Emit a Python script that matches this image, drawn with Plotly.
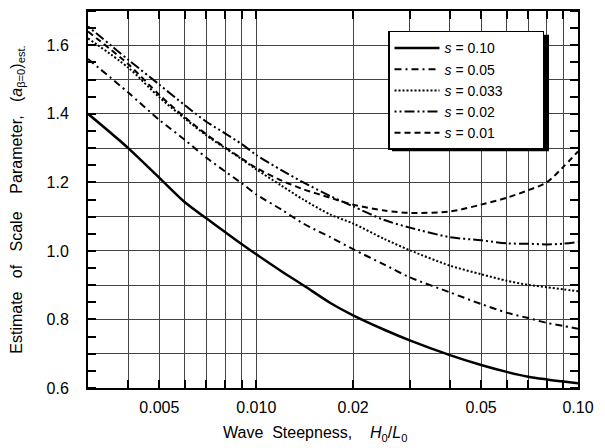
import plotly.graph_objects as go

steepness = [0.003, 0.004, 0.005, 0.006, 0.007, 0.008, 0.009, 0.010, 0.012, 0.014,
             0.017, 0.02, 0.025, 0.03, 0.04, 0.05, 0.06, 0.07, 0.08, 0.09, 0.1]

s_010 = [1.40, 1.30, 1.213, 1.142, 1.095, 1.055, 1.020, 0.990, 0.940, 0.900,
         0.848, 0.812, 0.770, 0.739, 0.696, 0.667, 0.647, 0.633, 0.625, 0.619, 0.614]
s_005 = [1.56, 1.462, 1.382, 1.324, 1.272, 1.232, 1.198, 1.165, 1.120, 1.080,
         1.040, 1.005, 0.960, 0.923, 0.879, 0.845, 0.820, 0.804, 0.790, 0.781, 0.773]
s_0033 = [1.62, 1.535, 1.448, 1.386, 1.337, 1.300, 1.268, 1.238, 1.190, 1.150,
          1.106, 1.080, 1.035, 1.002, 0.957, 0.932, 0.913, 0.901, 0.894, 0.888, 0.882]
s_002 = [1.655, 1.558, 1.485, 1.425, 1.377, 1.343, 1.312, 1.280, 1.235, 1.200,
         1.160, 1.130, 1.090, 1.068, 1.040, 1.031, 1.022, 1.021, 1.019, 1.021, 1.026]
s_001 = [1.64, 1.545, 1.455, 1.390, 1.340, 1.302, 1.270, 1.242, 1.205, 1.180,
         1.155, 1.135, 1.118, 1.111, 1.115, 1.135, 1.155, 1.177, 1.200, 1.245, 1.290]

series_names = ["<i>s</i> = 0.10", "<i>s</i> = 0.05", "<i>s</i> = 0.033",
                "<i>s</i> = 0.02", "<i>s</i> = 0.01"]
series_values = [s_010, s_005, s_0033, s_002, s_001]
series_dash = ["solid", "7px,4px,2px,4px", "2px,2px", "2px,3px,2px,3px,10px,3px", "6px,4px"]
series_width = [2.5, 2, 2, 2, 2]

x_tickvals = [0.005, 0.01, 0.02, 0.05, 0.1]
x_ticktext = ["0.005", "0.010", "0.02", "0.05", "0.10"]
x_minorvals = [0.004, 0.006, 0.007, 0.008, 0.009, 0.03, 0.04, 0.06, 0.07, 0.08, 0.09]
y_tickvals = [0.6, 0.7, 0.8, 0.9, 1.0, 1.1, 1.2, 1.3, 1.4, 1.5, 1.6, 1.7]
y_ticktext = ["0.6", "", "0.8", "", "1.0", "", "1.2", "", "1.4", "", "1.6", ""]

FONT = "Liberation Sans, Arial, sans-serif"
NB = "&nbsp;"

fig = go.Figure()
for name, vals, dash, w in zip(series_names, series_values, series_dash, series_width):
    fig.add_trace(go.Scatter(
        x=steepness, y=vals, mode="lines", name=name + NB * 9,
        line=dict(color="black", width=w, dash=dash, shape="spline", smoothing=0.8),
    ))

L, R, T, B = 88, 27, 9, 60
W, H = 605, 448
pw, ph = W - L - R, H - T - B

def px_to_paper(xp, yp):
    return (xp - L) / pw, (H - B - yp) / ph

sx0, sy0 = px_to_paper(392, 150)
sx1, sy1 = px_to_paper(549, 33)
fig.add_shape(type="rect", xref="paper", yref="paper", x0=sx0, x1=sx1, y0=sy0, y1=sy1,
              fillcolor="black", line=dict(width=0), layer="above")

lx, ly = px_to_paper(388, 29)
fig.update_layout(
    width=W, height=H,
    margin=dict(l=L, r=R, t=T, b=B),
    paper_bgcolor="white", plot_bgcolor="white",
    font=dict(family=FONT, size=16, color="black"),
    showlegend=True,
    legend=dict(x=lx, y=ly, xanchor="left", yanchor="top",
                bgcolor="white", bordercolor="black", borderwidth=1.5,
                font=dict(size=14), itemwidth=45, tracegroupgap=0),
    xaxis=dict(
        type="log", range=[-2.5229, -1], tickvals=x_tickvals, ticktext=x_ticktext,
        ticks="inside", ticklen=8, tickwidth=2, tickcolor="black",
        showgrid=True, gridcolor="#444", gridwidth=1,
        showline=True, linecolor="black", linewidth=2, mirror="ticks",
        minor=dict(tickvals=x_minorvals, ticks="inside", ticklen=8, tickwidth=2,
                   tickcolor="black", showgrid=True, gridcolor="#444", gridwidth=1),
        title=dict(text="Wave" + NB + " Steepness," + NB * 3 + " <i>H</i><sub>0</sub>/<i>L</i><sub>0</sub>" + NB * 8,
                   font=dict(size=16), standoff=12),
        ticklabelstandoff=4, zeroline=False,
    ),
    yaxis=dict(
        range=[0.6, 1.7], tickvals=y_tickvals, ticktext=y_ticktext,
        ticks="", showgrid=True, gridcolor="#444", gridwidth=1,
        showline=True, linecolor="black", linewidth=2, mirror="ticks",
        minor=dict(dtick=0.05, tick0=0.6, ticks="inside", ticklen=8, tickwidth=1.5,
                   tickcolor="black", showgrid=False),
        title=dict(text="Estimate" + NB * 2 + " of" + NB * 2 + " Scale" + NB * 3 + " Parameter," + NB * 2
                   + " (<i>a</i><sub>β=0</sub>)<sub>est.</sub>",
                   font=dict(size=16), standoff=20),
        ticklabelstandoff=14, zeroline=False,
    ),
)

fig.write_html("out.html")
